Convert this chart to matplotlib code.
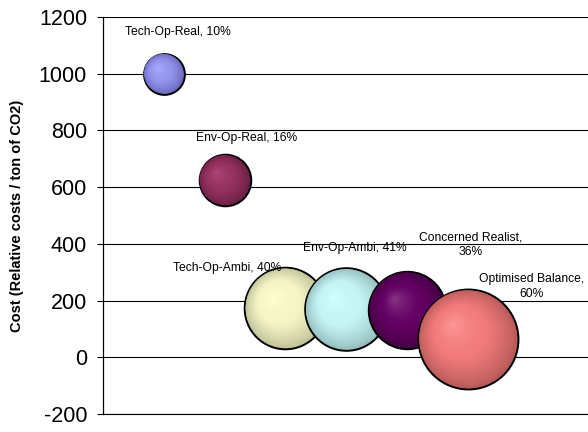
import numpy as np
import matplotlib.pyplot as plt
from matplotlib.colors import to_rgb
from matplotlib.transforms import offset_copy

plt.rcParams['font.family'] = ['Liberation Sans', 'DejaVu Sans']
plt.rcParams['axes.unicode_minus'] = False

# scenarios, cost per ton of CO2 and bubble size (share, %)
scenarios = ['Tech-Op-Real', 'Env-Op-Real', 'Tech-Op-Ambi', 'Env-Op-Ambi',
             'Concerned Realist', 'Optimised Balance']
position = [1, 2, 3, 4, 5, 6]
cost = [1000, 625, 173, 169, 167, 65]
share = [10, 16, 40, 41, 36, 60]
labels = ['Tech-Op-Real, 10%', 'Env-Op-Real, 16%', 'Tech-Op-Ambi, 40%',
          'Env-Op-Ambi, 41%', 'Concerned Realist,\n36%', 'Optimised Balance,\n60%']

# classic office palette: highlight, body and rim colour of each bubble
light = ['#acacff', '#b2497f', '#ffffd2', '#d2ffff', '#8a3a8a', '#ff9898']
base = ['#9494f0', '#96325f', '#f4f4c4', '#c4f4f4', '#640064', '#f27a7a']
dark = ['#6a6abc', '#6a2046', '#c0c09a', '#96bcbc', '#440044', '#b85a5a']
label_off = [(10, 30), (16, 30), (-42, 29), (6, 44), (46, 47), (46, 38)]

fig = plt.figure(figsize=(5.88, 4.32), dpi=100)
ax = fig.add_axes([103 / 588, 18 / 432, 485 / 588, 397 / 432])


def shade(i, f):
    lo = np.array(to_rgb(dark[i]))
    mid = np.array(to_rgb(base[i]))
    hi = np.array(to_rgb(light[i]))
    if f > 0.55:
        t = (1 - f) / 0.45
        return lo + (mid - lo) * t ** 0.8
    t = (0.55 - f) / 0.55
    return mid + (hi - mid) * t ** 1.5


size_scale = 86.3
n_layers = 26
for i in range(len(scenarios)):
    s = size_scale * share[i]
    r = 0.5 * np.sqrt(s)  # radius in points
    z = 3 + i
    # outline
    ax.scatter(position[i], cost[i], s=s, color=dark[i], edgecolor='black',
               linewidth=1.4, zorder=z)
    # shaded body: shrinking circles drifting toward the upper-left highlight
    for k in range(1, n_layers):
        f = 1 - k / n_layers
        tr = offset_copy(ax.transData, fig=fig, x=-0.33 * r * (1 - f),
                         y=0.3 * r * (1 - f), units='points')
        ax.scatter(position[i], cost[i], s=s * f * f, color=shade(i, f),
                   edgecolor='none', transform=tr, zorder=z)

for i in range(len(scenarios)):
    ax.annotate(labels[i], xy=(position[i], cost[i]), xytext=label_off[i],
                textcoords='offset points', ha='center', va='center',
                fontsize=8.7, linespacing=1.35, zorder=20)

ax.set_xlim(0, 485 / 60.8)
ax.set_ylim(-200, 1200)
ax.set_yticks(np.arange(-200, 1201, 200))
ax.set_xticks([])
ax.grid(axis='y', color='black', linewidth=0.8, zorder=0)
ax.set_axisbelow(True)
for side in ['top', 'right']:
    ax.spines[side].set_visible(False)
ax.spines['bottom'].set_linewidth(0.8)
ax.spines['left'].set_linewidth(0.9)
ax.tick_params(axis='y', labelsize=15.5, length=4.5, width=0.8, pad=7)

ax.set_ylabel('Cost (Relative costs / ton of CO2)', fontsize=10.5, fontweight='bold')
ax.yaxis.set_label_coords(-0.163, 0.5)

fig.savefig('out.png', dpi=100)
